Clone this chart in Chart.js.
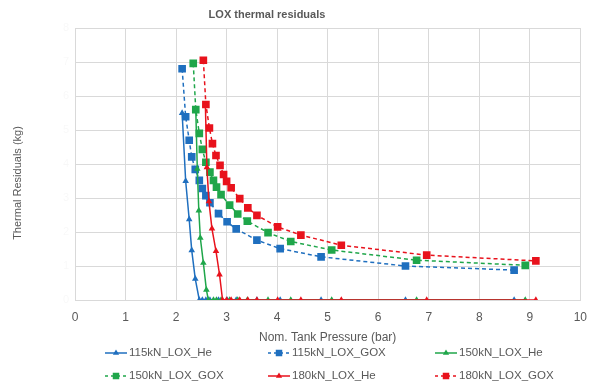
<!DOCTYPE html>
<html>
<head>
<meta charset="utf-8">
<script src="https://cdn.jsdelivr.net/npm/chart.js@4.4.1/dist/chart.umd.min.js"></script>
<style>
  html, body { margin: 0; padding: 0; background: #fff; }
</style>
</head>
<body>
<canvas id="loxChart" width="590" height="385"></canvas>
<script>
// Chart text
const chartTitle = "LOX thermal residuals";
const xTitle = "Nom. Tank Pressure (bar)";
const yTitle = "Thermal Residuals (kg)";

// X ticks 0..10, y ticks 0..8 (y labels are washed out in the source)
const xTicks = [0, 1, 2, 3, 4, 5, 6, 7, 8, 9, 10];
const yTicks = [0, 1, 2, 3, 4, 5, 6, 7, 8];

// 115 kN
const pressure115 = [2.12, 2.19, 2.26, 2.31, 2.38, 2.46, 2.52, 2.59, 2.67, 2.84, 3.01, 3.19, 3.60, 4.06, 4.87, 6.54, 8.69];
const gox115 = [6.80, 5.39, 4.70, 4.21, 3.84, 3.52, 3.28, 3.07, 2.86, 2.54, 2.30, 2.09, 1.76, 1.51, 1.27, 1.00, 0.88];
const he115 = [5.50, 3.50, 2.37, 1.46, 0.62, 0, 0, 0, 0, 0, 0, 0, 0, 0, 0, 0, 0];

// 150 kN
const pressure150Gox = [2.34, 2.39, 2.46, 2.52, 2.59, 2.67, 2.74, 2.80, 2.89, 3.06, 3.22, 3.41, 3.82, 4.27, 5.08, 6.76, 8.91];
const gox150 = [6.96, 5.60, 4.90, 4.43, 4.05, 3.76, 3.52, 3.32, 3.10, 2.79, 2.53, 2.32, 1.98, 1.72, 1.47, 1.17, 1.02];
const pressure150He = [2.39, 2.42, 2.45, 2.48, 2.54, 2.60, 2.64, 2.74, 2.80, 2.89, 3.06, 3.22, 3.41, 3.82, 4.27, 5.08, 6.76, 8.91];
const he150 = [5.60, 3.86, 2.63, 1.83, 1.09, 0.30, 0, 0, 0, 0, 0, 0, 0, 0, 0, 0, 0, 0];

// 180 kN
const pressure180Gox = [2.54, 2.59, 2.66, 2.72, 2.79, 2.87, 2.94, 3.00, 3.09, 3.26, 3.42, 3.60, 4.01, 4.47, 5.27, 6.96, 9.12];
const gox180 = [7.05, 5.75, 5.06, 4.60, 4.25, 3.96, 3.69, 3.49, 3.30, 2.98, 2.71, 2.49, 2.15, 1.91, 1.61, 1.32, 1.15];
const pressure180He = [2.58, 2.61, 2.65, 2.71, 2.79, 2.86, 2.92, 3.00, 3.09, 3.26, 3.42, 3.60, 4.01, 4.47, 5.27, 6.96, 9.12];
const he180 = [5.75, 3.90, 2.90, 2.10, 1.44, 0.75, 0, 0, 0, 0, 0, 0, 0, 0, 0, 0, 0];

const BLUE = "#1f6fbf";
const GREEN = "#1fa64a";
const RED = "#e8121c";
const TEXT = "#595959";
const GRID = "#d9d9d9";
const FONT = "'Liberation Sans', Arial, sans-serif";

// pair x and y arrays into scatter points
function zip(xs, ys) {
  return xs.map((x, i) => ({ x: x, y: ys[i] }));
}

function heSeries(label, xs, ys, color, order) {
  return {
    label: label,
    data: zip(xs, ys),
    borderColor: color,
    backgroundColor: color,
    borderWidth: 1.5,
    pointStyle: "triangle",
    pointRadius: 3.8,
    pointBorderWidth: 0,
    showLine: true,
    order: order,
  };
}

function goxSeries(label, xs, ys, color, order) {
  return {
    label: label,
    data: zip(xs, ys),
    borderColor: color,
    backgroundColor: color,
    borderWidth: 1.5,
    borderDash: [4, 3],
    pointStyle: "rect",
    pointRadius: 5.4,
    pointBorderWidth: 0,
    showLine: true,
    order: order,
  };
}

// Titles and the 3-column legend are drawn by hand
const legendCols = [105, 268, 435];
const legendRows = [353, 376];

const annotatePlugin = {
  id: "annotate",
  afterDraw: (chart) => {
    const ctx = chart.ctx;
    ctx.save();
    ctx.fillStyle = TEXT;
    ctx.textAlign = "center";
    ctx.textBaseline = "middle";
    ctx.font = "bold 11px " + FONT;
    ctx.fillText(chartTitle, 267, 15);

    ctx.save();
    ctx.translate(18, 183);
    ctx.rotate(-Math.PI / 2);
    ctx.font = "11px " + FONT;
    ctx.fillText(yTitle, 0, 0);
    ctx.restore();

    // legend, in dataset order
    chart.data.datasets.forEach((ds, i) => {
      const x = legendCols[i % 3];
      const y = legendRows[Math.floor(i / 3)];
      ctx.strokeStyle = ds.borderColor;
      ctx.fillStyle = ds.backgroundColor;
      ctx.lineWidth = 1.5;
      ctx.setLineDash(ds.borderDash ? [3, 3] : []);
      ctx.beginPath();
      ctx.moveTo(x, y);
      ctx.lineTo(x + 22, y);
      ctx.stroke();
      ctx.setLineDash([]);
      Chart.helpers.drawPoint(ctx, {
        pointStyle: ds.pointStyle,
        radius: ds.pointStyle === "rect" ? 4.6 : 3.6,
        rotation: 0,
        borderWidth: 0,
      }, x + 11, y);
      ctx.fillStyle = TEXT;
      ctx.textAlign = "left";
      ctx.font = "11.5px " + FONT;
      ctx.fillText(ds.label, x + 24, y);
    });
    ctx.restore();
  },
};

const ctx = document.getElementById("loxChart").getContext("2d");

new Chart(ctx, {
  type: "scatter",
  data: {
    datasets: [
      heSeries("115kN_LOX_He", pressure115, he115, BLUE, 5),
      goxSeries("115kN_LOX_GOX", pressure115, gox115, BLUE, 6),
      heSeries("150kN_LOX_He", pressure150He, he150, GREEN, 3),
      goxSeries("150kN_LOX_GOX", pressure150Gox, gox150, GREEN, 4),
      heSeries("180kN_LOX_He", pressure180He, he180, RED, 1),
      goxSeries("180kN_LOX_GOX", pressure180Gox, gox180, RED, 2),
    ],
  },
  options: {
    responsive: false,
    animation: false,
    layout: { padding: { top: 28, right: 0, bottom: 38, left: 0 } },
    plugins: {
      legend: { display: false },
      title: { display: false },
      tooltip: { enabled: false },
    },
    scales: {
      x: {
        type: "linear",
        min: xTicks[0],
        max: xTicks[xTicks.length - 1],
        afterBuildTicks: (scale) => { scale.ticks = xTicks.map((v) => ({ value: v })); },
        afterFit: (scale) => { scale.height = 47; },
        grid: { color: GRID, drawTicks: true, tickLength: 7, tickColor: "rgba(0,0,0,0)" },
        border: { color: GRID },
        ticks: { color: TEXT, padding: 3, font: { size: 12, family: FONT } },
        title: {
          display: true,
          text: xTitle,
          color: TEXT,
          font: { size: 12, family: FONT },
          padding: { top: 4, bottom: 2 },
        },
      },
      y: {
        type: "linear",
        min: yTicks[0],
        max: yTicks[yTicks.length - 1],
        afterBuildTicks: (scale) => { scale.ticks = yTicks.map((v) => ({ value: v })); },
        afterFit: (scale) => { scale.width = 75; },
        grid: { color: GRID, drawTicks: false },
        border: { color: GRID },
        ticks: { color: "rgba(0,0,0,0.03)", padding: 6, font: { size: 11, family: FONT } },
        title: { display: false },
      },
    },
  },
  plugins: [annotatePlugin],
});
</script>
</body>
</html>
